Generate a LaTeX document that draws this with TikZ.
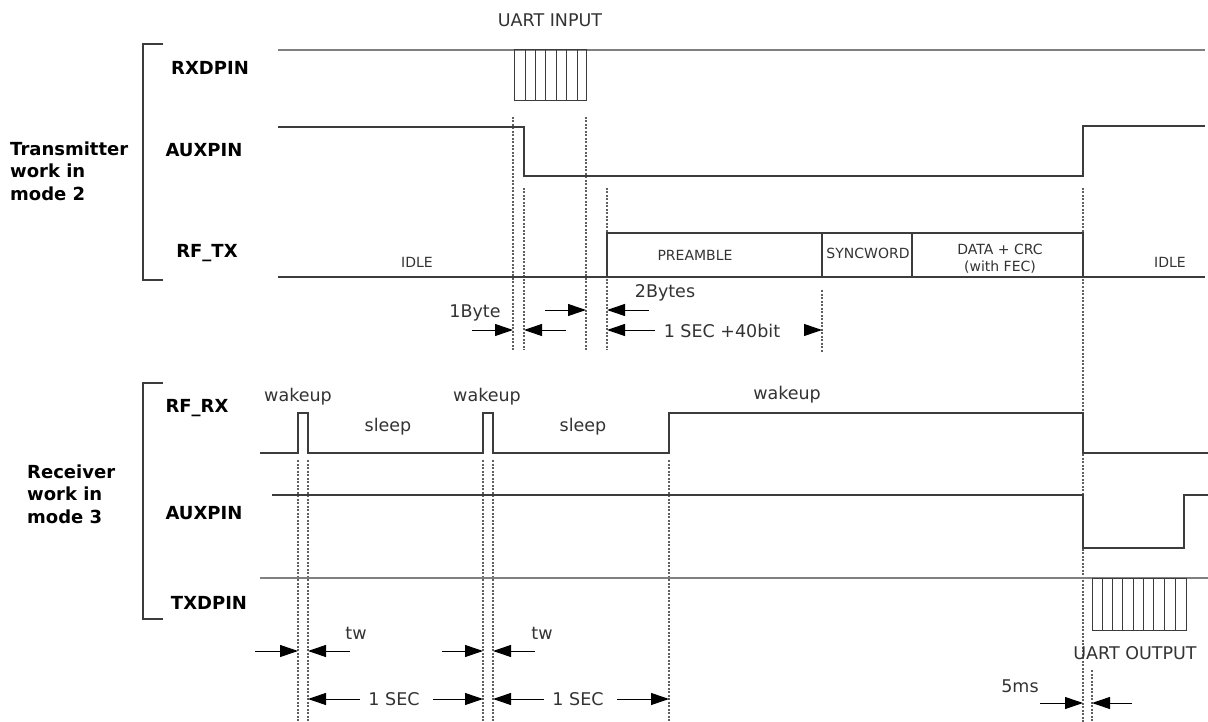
\documentclass[tikz,border=0pt]{standalone}
\usepackage{fontspec}
\setmainfont{DejaVu Sans}
\usetikzlibrary{arrows.meta}
\definecolor{sigc}{HTML}{3C3C3C}
\definecolor{txtc}{HTML}{333333}
\definecolor{dashc}{HTML}{606060}
\definecolor{lightc}{HTML}{808080}
\begin{document}
\begin{tikzpicture}[x=1pt,y=-1pt,
 sig/.style={draw=sigc, line width=1.4pt},
 cell/.style={draw=sigc, line width=1pt},
 dsh/.style={draw=dashc, line width=1.1pt, dash pattern=on 2pt off 1.5pt},
 dim/.style={draw=black, line width=1pt, -{Triangle[length=18pt,width=12pt]}},
 lbl/.style={font=\fontsize{18}{22}\selectfont\bfseries, text=black, inner sep=0},
 grp/.style={font=\fontsize{18}{22.5}\selectfont\bfseries, text=black, align=left, anchor=west, inner sep=0},
 txt/.style={font=\fontsize{17.5}{21}\selectfont, text=txtc, inner sep=0},
 sm/.style={font=\fontsize{14}{17}\selectfont, text=txtc, inner sep=0, align=center},
 brk/.style={draw=sigc, line width=1.3pt}]

\useasboundingbox[fill=white] (0,0) rectangle (1208,722);

% ---------- group labels and brackets ----------
\node[grp] (gtx) at (10,171) {Transmitter\\work in\\mode 2};
\node[grp] (grx) at (27,494) {Receiver\\work in\\mode 3};
\draw[brk] (163,44) -- (143,44) -- (143,280) -- (163,280);
\draw[brk] (163,383) -- (143,383) -- (143,619) -- (163,619);

\node[lbl] (lrxd) at (210,68) {RXDPIN};
\node[lbl] (lauxt) at (204,150) {AUXPIN};
\node[lbl] (lrftx) at (207,253) {RF\_TX};
\node[lbl] (lrfrx) at (197,408) {RF\_RX};
\node[lbl] (lauxr) at (204,513) {AUXPIN};
\node[lbl] (ltxd) at (209,603) {TXDPIN};

% ---------- dashed guide lines ----------
\draw[dsh] (513,117) -- (513,350);
\draw[dsh] (524,188) -- (524,350);
\draw[dsh] (586,117) -- (586,350);
\draw[dsh] (607,188) -- (607,350);
\draw[dsh] (822,290) -- (822,352);
\draw[dsh] (1083,188) -- (1083,722);
\draw[dsh] (298,460) -- (298,722);
\draw[dsh] (308,460) -- (308,722);
\draw[dsh] (483,460) -- (483,722);
\draw[dsh] (493,460) -- (493,722);
\draw[dsh] (669,460) -- (669,722);
\draw[dsh] (1092,670) -- (1092,722);

% ---------- transmitter signals ----------
\node[txt] (uin) at (550,20) {UART INPUT};
\draw[draw=lightc, line width=1.4pt] (278,50) -- (1205,50);
\draw[cell] (514,50) rectangle (586,101);
\foreach \x in {525,535,545,556,566,577} \draw[cell] (\x,50) -- (\x,101);

\draw[sig] (278,127) -- (524,127) -- (524,176) -- (1083,176) -- (1083,126) -- (1205,126);

\draw[sig] (278,277) -- (1205,277);
\draw[sig] (607,277) -- (607,233) -- (1083,233) -- (1083,277);
\draw[sig] (822,233) -- (822,277);
\draw[sig] (912,233) -- (912,277);
\node[sm] (idle1) at (417,262) {IDLE};
\node[sm] (pre) at (695,255) {PREAMBLE};
\node[sm] (sync) at (868,253) {SYNCWORD};
\node[sm] (data) at (1000,259) {DATA + CRC\\(with FEC)};
\node[sm] (idle2) at (1170,262) {IDLE};

% ---------- transmitter dimensions ----------
\node[txt] (b1) at (475,313) {1Byte};
\node[txt] (b2) at (665,293) {2Bytes};
\node[txt] (sec40) at (722,331) {1 SEC +40bit};
\draw[dim] (472,330) -- (513,330);
\draw[dim] (566,330) -- (524,330);
\draw[dim] (545,310) -- (586,310);
\draw[dim] (649,310) -- (607,310);
\draw[dim] (655,330) -- (607,330);
\draw[dim] (804,330) -- (822,330);

% ---------- receiver signals ----------
\draw[sig] (260,453) -- (298,453) -- (298,413) -- (308,413) -- (308,453)
  -- (483,453) -- (483,413) -- (493,413) -- (493,453) -- (669,453)
  -- (669,413) -- (1083,413) -- (1083,453) -- (1208,453);
\node[txt] (w1) at (298,397) {wakeup};
\node[txt] (w2) at (487,397) {wakeup};
\node[txt] (w3) at (787,395) {wakeup};
\node[txt] (s1) at (388,427) {sleep};
\node[txt] (s2) at (583,427) {sleep};

\draw[sig] (272,495) -- (1083,495) -- (1083,548) -- (1184,548) -- (1184,495) -- (1208,495);

\draw[draw=lightc, line width=1.4pt] (260,578) -- (1208,578);
\draw[cell] (1092,578) rectangle (1186,630);
\foreach \x in {1102,1112,1122,1133,1143,1153,1164,1175} \draw[cell] (\x,578) -- (\x,630);
\node[txt] (uout) at (1135,653) {UART OUTPUT};

% ---------- receiver dimensions ----------
\node[txt] (tw1) at (356,633) {tw};
\node[txt] (tw2) at (542,633) {tw};
\node[txt] (sec1) at (394,699) {1 SEC};
\node[txt] (sec2) at (578,699) {1 SEC};
\node[txt] (ms5) at (1020,686) {5ms};
\draw[dim] (255,651) -- (298,651);
\draw[dim] (350,651) -- (308,651);
\draw[dim] (442,651) -- (483,651);
\draw[dim] (535,651) -- (493,651);
\draw[dim] (360,699) -- (308,699);
\draw[dim] (433,699) -- (483,699);
\draw[dim] (544,699) -- (493,699);
\draw[dim] (617,699) -- (669,699);
\draw[dim] (1040,703) -- (1083,703);
\draw[dim] (1132,703) -- (1092,703);
\end{tikzpicture}
\end{document}
